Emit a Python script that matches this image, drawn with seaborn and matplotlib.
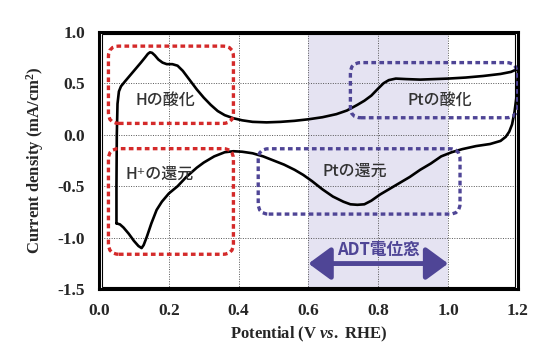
import numpy as np
import pandas as pd
import matplotlib
matplotlib.use("Agg")
import matplotlib.pyplot as plt
import seaborn as sns
from matplotlib.patches import FancyBboxPatch, Rectangle

# anodic sweep (upper branch)
anodic_v = [0.050, 0.050, 0.051, 0.053, 0.057, 0.063, 0.075, 0.090, 0.105, 0.120,
            0.132, 0.140, 0.146, 0.152, 0.160, 0.170, 0.182, 0.194, 0.210, 0.225,
            0.240, 0.260, 0.280, 0.300, 0.320, 0.340, 0.360, 0.385, 0.410, 0.440,
            0.480, 0.520, 0.560, 0.600, 0.640, 0.680, 0.710, 0.740, 0.760, 0.780,
            0.800, 0.815, 0.830, 0.850, 0.880, 0.920, 0.960, 1.000, 1.050, 1.100,
            1.150, 1.180, 1.200]
anodic_i = [-0.86, -0.50, 0.00, 0.30, 0.42, 0.47, 0.52, 0.58, 0.64, 0.70,
            0.75, 0.785, 0.80, 0.795, 0.77, 0.73, 0.70, 0.685, 0.685, 0.67,
            0.62, 0.53, 0.44, 0.36, 0.29, 0.23, 0.19, 0.16, 0.14, 0.125,
            0.12, 0.125, 0.135, 0.15, 0.17, 0.20, 0.235, 0.29, 0.33, 0.38,
            0.45, 0.50, 0.53, 0.545, 0.54, 0.535, 0.54, 0.545, 0.555, 0.57,
            0.59, 0.61, 0.64]

# cathodic sweep (lower branch)
cathodic_v = [1.200, 1.198, 1.195, 1.190, 1.183, 1.175, 1.165, 1.150, 1.120, 1.080,
              1.040, 1.010, 0.980, 0.950, 0.920, 0.890, 0.860, 0.830, 0.805, 0.780,
              0.760, 0.740, 0.720, 0.700, 0.670, 0.640, 0.610, 0.585, 0.560, 0.530,
              0.500, 0.470, 0.440, 0.410, 0.385, 0.360, 0.330, 0.300, 0.280, 0.250,
              0.225, 0.200, 0.180, 0.165, 0.150, 0.137, 0.128, 0.122, 0.113, 0.100,
              0.085, 0.070, 0.060, 0.050]
cathodic_i = [0.64, 0.50, 0.35, 0.22, 0.10, 0.03, -0.02, -0.06, -0.09, -0.11,
              -0.14, -0.17, -0.21, -0.28, -0.34, -0.41, -0.47, -0.53, -0.58, -0.64,
              -0.675, -0.68, -0.675, -0.65, -0.60, -0.53, -0.45, -0.39, -0.34, -0.29,
              -0.25, -0.21, -0.18, -0.165, -0.16, -0.17, -0.21, -0.27, -0.32, -0.41,
              -0.50, -0.57, -0.65, -0.73, -0.86, -0.99, -1.07, -1.10, -1.08, -1.03,
              -0.96, -0.90, -0.87, -0.86]

adt_window = (0.6, 1.0)
x_ticks = [0.0, 0.2, 0.4, 0.6, 0.8, 1.0, 1.2]
y_ticks = [-1.5, -1.0, -0.5, 0.0, 0.5, 1.0]

# annotation boxes: (x0, x1, y0, y1, colour, label, label_x, label_y)
boxes = [
    (0.027, 0.385, 0.11, 0.86, "#d42a2a", "Hの酸化", 0.19, 0.33),
    (0.027, 0.385, -1.16, -0.135, "#d42a2a", "H⁺の還元", 0.175, -0.38),
    (0.72, 1.197, 0.165, 0.70, "#4f4596", "Ptの酸化", 0.977, 0.33),
    (0.456, 1.034, -0.77, -0.136, "#4f4596", "Ptの還元", 0.733, -0.35),
]

df = pd.DataFrame({
    "potential": anodic_v + cathodic_v,
    "current": anodic_i + cathodic_i,
})

sns.set_style("white")
plt.rcParams["font.family"] = ["Noto Sans CJK JP", "DejaVu Sans"]
plt.rcParams["mathtext.fontset"] = "custom"
plt.rcParams["mathtext.rm"] = "Liberation Serif:bold"
plt.rcParams["mathtext.it"] = "Liberation Serif:bold:italic"

fig = plt.figure(figsize=(5.54, 3.61), dpi=100)
ax = fig.add_axes([0.1787, 0.1986, 0.7563, 0.7136])

purple = "#4f4596"
ax.axvspan(*adt_window, color="#e5e3f2", zorder=0, lw=0)

sns.lineplot(data=df, x="potential", y="current", sort=False, estimator=None,
             color="black", lw=1.9, ax=ax, zorder=3)

aspect = (349 / 103)
for x0, x1, y0, y1, col, lab, lx, ly in boxes:
    p = FancyBboxPatch((x0, y0), x1 - x0, y1 - y0,
                       boxstyle="round,pad=0,rounding_size=0.03",
                       mutation_aspect=aspect, fill=False, ec=col, lw=2.4,
                       ls=(0, (1.4, 1.0)), zorder=4)
    ax.add_patch(p)
    ax.text(lx, ly, lab, ha="center", va="center", fontsize=11.5,
            fontweight="medium", color="#333333", zorder=5)

ax.annotate("", xy=(adt_window[0], -1.25), xytext=(adt_window[1], -1.25),
            arrowprops=dict(arrowstyle="<|-|>,head_length=0.75,head_width=0.55",
                            color=purple, lw=3.5, shrinkA=0, shrinkB=0,
                            mutation_scale=18), zorder=5)
ax.text(0.80, -1.12, "ADT電位窓", ha="center", va="center", fontsize=12,
        color=purple, fontweight="bold", zorder=5)

ax.set_xlim(0, 1.2)
ax.set_ylim(-1.5, 1.0)
ax.set_xticks(x_ticks)
ax.set_yticks(y_ticks)
ax.set_xticklabels([f"{t:.1f}" for t in x_ticks], family="Liberation Serif",
                   fontweight="bold", fontsize=12.5)
ax.set_yticklabels([f"{t:.1f}" for t in y_ticks], family="Liberation Serif",
                   fontweight="bold", fontsize=12.5)
ax.tick_params(length=0, pad=10)
ax.grid(True, color="#555555", ls=(0, (1, 1.5)), lw=0.7)
ax.set_axisbelow(True)
for s in ax.spines.values():
    s.set_linewidth(2.2)
    s.set_color("black")
ax.add_patch(Rectangle((0.006, 0.0097), 0.988, 0.9806, transform=ax.transAxes,
                       fill=False, ec="black", lw=0.8, zorder=6, clip_on=False))

ax.set_xlabel("Potential (V $\\it{vs.}$ RHE)", family="Liberation Serif",
              fontweight="bold", fontsize=12, labelpad=4)
ax.set_ylabel("Current density (mA/cm$^2$)", family="Liberation Serif",
              fontweight="bold", fontsize=12, labelpad=8)

fig.savefig("out.png", dpi=100)
